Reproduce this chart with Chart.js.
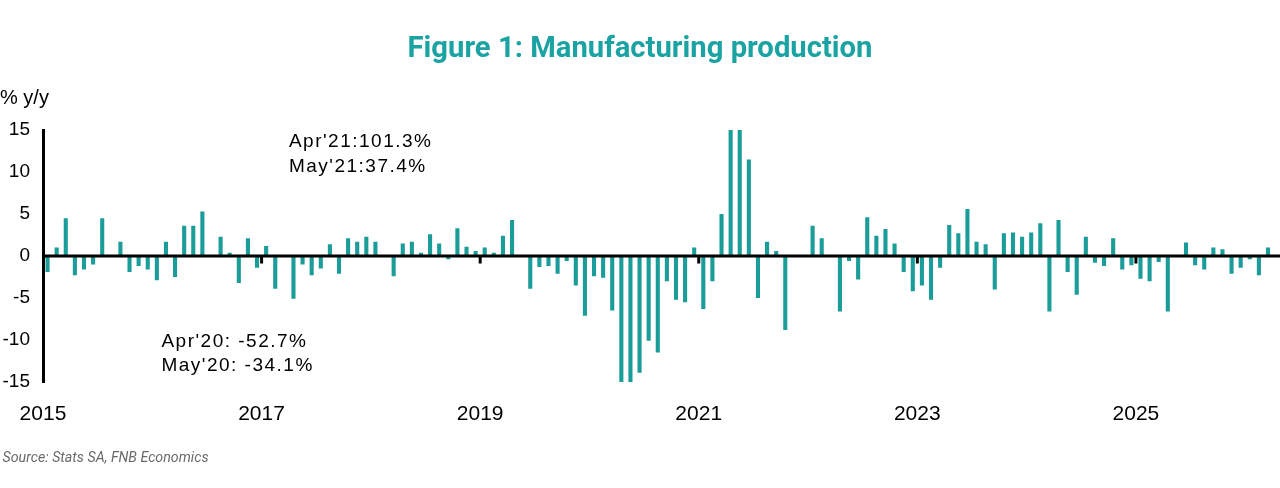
<!DOCTYPE html>
<html>
<head>
<meta charset="utf-8">
<script src="https://cdn.jsdelivr.net/npm/chart.js@4.4.1/dist/chart.umd.min.js"></script>
<style>
html,body{margin:0;padding:0;background:#ffffff;}
#wrap{width:1280px;height:488px;position:relative;}
</style>
</head>
<body>
<div id="wrap"><canvas id="c" width="1280" height="488"></canvas></div>
<script>
// ---- data (manufacturing production, % y/y, monthly from Jan 2015) ----
const monthNames = ['Jan','Feb','Mar','Apr','May','Jun','Jul','Aug','Sep','Oct','Nov','Dec'];
const v2015 = [-1.9, 1.0, 4.5, -2.3, -1.6, -1.0, 4.5, 0.0, 1.7, -1.9, -1.2, -1.6];
const v2016 = [-2.9, 1.7, -2.5, 3.6, 3.6, 5.3, 0.1, 2.3, 0.4, -3.2, 2.1, -1.4];
const v2017 = [1.2, -3.9, 0.1, -5.1, -1.0, -2.3, -1.5, 1.4, -2.1, 2.1, 1.7, 2.3];
const v2018 = [1.7, 0.1, -2.4, 1.5, 1.7, 0.4, 2.6, 1.5, -0.4, 3.3, 1.1, 0.6];
const v2019 = [1.0, 0.4, 2.4, 4.3, 0.1, -3.9, -1.3, -1.2, -2.1, -0.6, -3.5, -7.1];
const v2020 = [-2.4, -2.6, -6.5, -52.7, -34.1, -13.9, -10.1, -11.5, -3.0, -5.2, -5.5, 1.0];
const v2021 = [-6.3, -3.0, 5.0, 101.3, 37.4, 11.5, -5.0, 1.7, 0.6, -8.8, 0.1, 0.0];
const v2022 = [3.6, 2.1, 0.0, -6.6, -0.6, -2.8, 4.6, 2.4, 3.2, 1.5, -1.9, -4.2];
const v2023 = [-3.5, -5.2, -1.4, 3.7, 2.7, 5.6, 1.7, 1.4, -4.0, 2.7, 2.8, 2.3];
const v2024 = [2.8, 3.9, -6.6, 4.3, -1.9, -4.6, 2.3, -0.8, -1.2, 2.1, -1.6, -1.1];
const v2025 = [-2.7, -3.0, -0.7, -6.6, 0.1, 1.6, -1.1, -1.6, 1.0, 0.8, -2.1, -1.4];
const v2026 = [-0.4, -2.3, 1.0];
const yearlyValues = [v2015, v2016, v2017, v2018, v2019, v2020, v2021, v2022, v2023, v2024, v2025, v2026];
const firstYear = 2015;
const tickYears = ['2015', '2017', '2019', '2021', '2023', '2025'];
const yTicks = [-15, -10, -5, 0, 5, 10, 15];

const titleText = 'Figure 1: Manufacturing production';
const unitText = '% y/y';
const sourceText = 'Source: Stats SA, FNB Economics';
const noteTop = ["Apr'21:101.3%", "May'21:37.4%"];
const noteBottom = ["Apr'20: -52.7%", "May'20: -34.1%"];

// build categories and the single series from the arrays above
const labels = [];
const values = [];
yearlyValues.forEach((arr, yi) => {
  arr.forEach((v, mi) => {
    labels.push(monthNames[mi] + ' ' + (firstYear + yi));
    values.push(v);
  });
});

const BAR = '#1a9c98';
const TEAL = '#1ba3a3';
const SANS = '"Liberation Sans", Arial, sans-serif';

const decorPlugin = {
  id: 'decor',
  afterDatasetsDraw(chart) {
    const {ctx, chartArea: a, scales: {x, y}} = chart;
    const y0 = y.getPixelForValue(0);
    const w = (x.right - x.left) / labels.length;
    ctx.save();
    ctx.fillStyle = '#000';
    ctx.fillRect(a.left, y0 - 1.5, chart.width - a.left, 3);
    for (let i = 24; i < labels.length; i += 24) {
      const px = x.left + i * w;
      ctx.fillRect(px - 1.5, y0, 3, 7.5);
    }
    ctx.restore();
  },
  afterDraw(chart) {
    const {ctx, scales: {x, y}} = chart;
    const w = (x.right - x.left) / labels.length;
    ctx.save();
    // title
    ctx.fillStyle = TEAL;
    ctx.font = 'bold 30px Roboto, "Liberation Sans", sans-serif';
    ctx.textBaseline = 'alphabetic';
    ctx.textAlign = 'left';
    let mw = ctx.measureText(titleText).width;
    let target = 465;
    ctx.save();
    ctx.translate(640 - target / 2, 56.5);
    ctx.scale(target / mw, 1);
    ctx.fillText(titleText, 0, 0);
    ctx.restore();
    // unit label
    ctx.fillStyle = '#000';
    ctx.font = '20px ' + SANS;
    ctx.fillText(unitText, 0, 103.5);
    // annotations
    ctx.font = '19px ' + SANS;
    try { ctx.letterSpacing = '1.5px'; } catch (e) {}
    const notes = [
      {lines: noteTop, col: 27, val: 12.95},
      {lines: noteBottom, col: 13, val: -10.8}
    ];
    notes.forEach(n => {
      const px = x.left + n.col * w;
      const py = y.getPixelForValue(n.val);
      n.lines.forEach((t, k) => ctx.fillText(t, px, py + k * 24.5));
    });
    try { ctx.letterSpacing = '0px'; } catch (e) {}
    // source
    ctx.fillStyle = '#6a6a6a';
    ctx.font = 'italic 14px Roboto, "Liberation Sans", sans-serif';
    mw = ctx.measureText(sourceText).width;
    target = 206;
    ctx.translate(2.5, 462);
    ctx.scale(target / mw, 1);
    ctx.fillText(sourceText, 0, 0);
    ctx.restore();
  }
};

new Chart(document.getElementById('c'), {
  type: 'bar',
  data: {
    labels: labels,
    datasets: [{
      data: values,
      backgroundColor: BAR,
      borderWidth: 0,
      barPercentage: 0.45,
      categoryPercentage: 1.0
    }]
  },
  options: {
    responsive: false,
    animation: false,
    devicePixelRatio: 1,
    layout: {padding: {top: 130, right: 2, left: 0, bottom: 0}},
    plugins: {legend: {display: false}, tooltip: {enabled: false}, title: {display: false}},
    scales: {
      x: {
        type: 'category',
        grid: {display: false},
        border: {display: false},
        ticks: {
          autoSkip: false,
          maxRotation: 0,
          minRotation: 0,
          color: '#000',
          font: {family: SANS, size: 21},
          padding: 12,
          labelOffset: -4.6,
          callback: (v, i) => (i % 24 === 0 ? tickYears[i / 24] : '')
        },
        afterFit: s => { s.height = 106; }
      },
      y: {
        min: -15,
        max: 15,
        afterBuildTicks: s => { s.ticks = yTicks.map(v => ({value: v})); },
        grid: {display: false, drawTicks: false},
        border: {display: true, color: '#000', width: 3},
        ticks: {
          color: '#000',
          font: {family: SANS, size: 19},
          padding: 13
        },
        afterFit: s => { s.width = 43; }
      }
    }
  },
  plugins: [decorPlugin]
});
</script>
</body>
</html>
